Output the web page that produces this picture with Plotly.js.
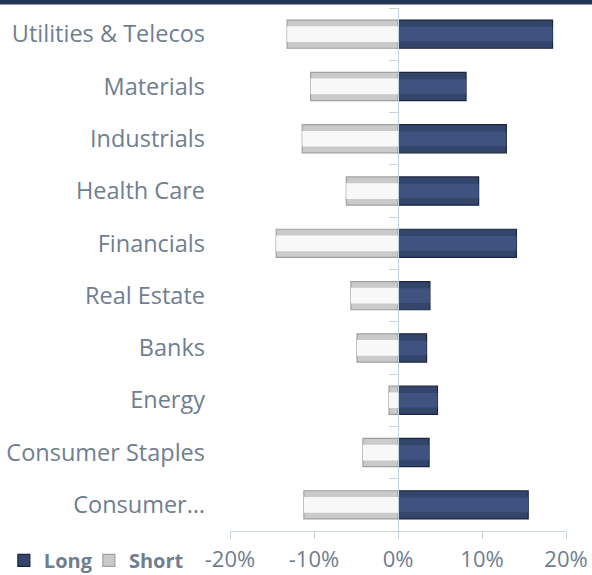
<!DOCTYPE html>
<html>
<head>
<meta charset="utf-8">
<script src="https://cdn.plot.ly/plotly-3.0.1.min.js"></script>
<style>
html,body{margin:0;padding:0;background:#fff;}
#chart{width:592px;height:575px;}
</style>
</head>
<body>
<div id="chart"></div>
<script>
const categories = ["Utilities & Telecos","Materials","Industrials","Health Care","Financials","Real Estate","Banks","Energy","Consumer Staples","Consumer…"];
const longValues = [0.184, 0.081, 0.129, 0.096, 0.141, 0.038, 0.034, 0.047, 0.037, 0.155];
const shortValues = [-0.132, -0.104, -0.114, -0.0615, -0.145, -0.056, -0.0488, -0.0107, -0.0417, -0.112];
const xTickVals = [-0.2, -0.1, 0, 0.1, 0.2];
const xTickText = ["-20%", "-10%", "0%", "10%", "20%"];

const labelColor = "#6f7e90";
const axisColor = "#c5d4e2";
const fontFam = "'Open Sans', Lato, sans-serif";

const traces = [
  {type:"bar", orientation:"h", name:"Long", y:categories, x:longValues, width:0.54, legend:"legend",
   marker:{color:"#33456b", line:{color:"#1b2540", width:1.2}}},
  {type:"bar", orientation:"h", name:"Short", y:categories, x:shortValues, width:0.54, legend:"legend2",
   marker:{color:"#cacaca", line:{color:"#a0a0a0", width:1.2}}},
  {type:"bar", orientation:"h", name:"Long hi", y:categories, x:longValues, width:0.28, yaxis:"y2", showlegend:false, hoverinfo:"skip",
   marker:{color:"#405380", line:{width:0}}},
  {type:"bar", orientation:"h", name:"Short hi", y:categories, x:shortValues, width:0.3, yaxis:"y2", showlegend:false, hoverinfo:"skip",
   marker:{color:"#f8f8f8", line:{width:0}}}
];

const legendFont = {family:fontFam, size:20, color:labelColor, weight:"bold"};
const layout = {
  width:592, height:575,
  margin:{l:230, r:26, t:8, b:44, autoexpand:false},
  paper_bgcolor:"#ffffff", plot_bgcolor:"#ffffff",
  barmode:"overlay",
  font:{family:fontFam, color:labelColor, size:21},
  showlegend:true,
  legend:{orientation:"h", x:-0.673, y:-0.056, xanchor:"left", yanchor:"middle",
          font:legendFont, bgcolor:"rgba(0,0,0,0)"},
  legend2:{orientation:"h", x:-0.42, y:-0.056, xanchor:"left", yanchor:"middle",
          font:legendFont, bgcolor:"rgba(0,0,0,0)"},
  xaxis:{range:[-0.2, 0.2], tickvals:xTickVals, ticktext:xTickText, automargin:false,
         showgrid:false, zeroline:false, showline:true, linecolor:axisColor, linewidth:1,
         ticks:"outside", ticklen:7, tickcolor:axisColor, tickwidth:1, ticklabelstandoff:2,
         tickfont:{family:fontFam, size:22, color:labelColor}, fixedrange:true},
  yaxis:{type:"category", categoryarray:categories, categoryorder:"array", autorange:"reversed", automargin:false,
         showgrid:false, zeroline:false, showline:false, ticks:"",
         tickfont:{family:fontFam, size:23.5, color:labelColor}, ticklabelstandoff:24, fixedrange:true},
  yaxis2:{type:"category", categoryarray:categories, categoryorder:"array", autorange:"reversed", automargin:false,
          overlaying:"y", anchor:"free", position:0.5, side:"left",
          showgrid:false, zeroline:false, showline:true, linecolor:axisColor, linewidth:1,
          ticks:"outside", ticklen:9, tickcolor:axisColor, tickwidth:1, tickson:"boundaries",
          showticklabels:false, fixedrange:true},
  shapes:[
    {type:"rect", xref:"paper", yref:"paper", x0:-0.7, x1:1.1, y0:1.0065, y1:1.02, line:{width:0}, fillcolor:"#233454"}
  ]
};

Plotly.newPlot("chart", traces, layout, {displayModeBar:false, staticPlot:true});
</script>
</body>
</html>
